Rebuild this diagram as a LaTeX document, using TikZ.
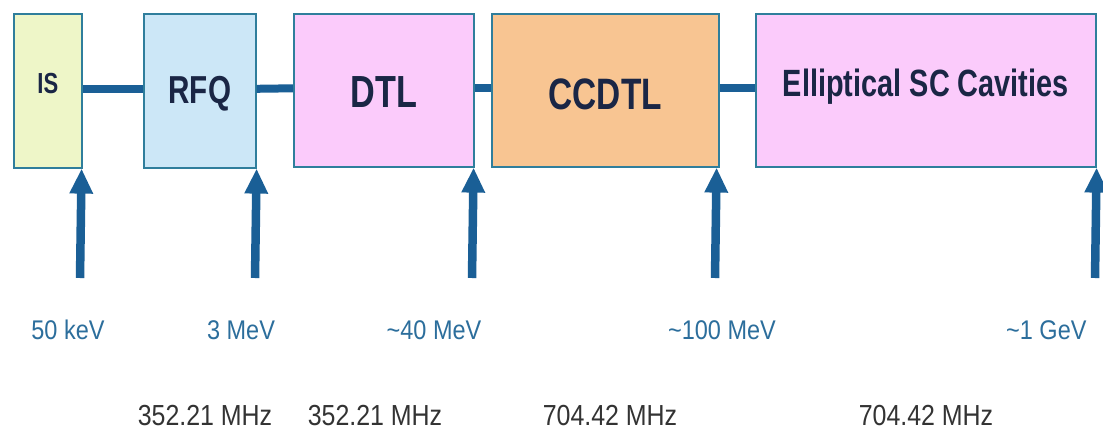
\documentclass[tikz,border=0pt]{standalone}
\usepackage{fontspec}
\setmainfont{Liberation Sans}
\newfontfamily\boxfont{Liberation Sans}[FakeStretch=0.76]
\newfontfamily\energyfont{Liberation Sans}[FakeStretch=0.87]
\newfontfamily\freqfont{Liberation Sans}[FakeStretch=0.86]
\usetikzlibrary{arrows.meta}
\definecolor{borderc}{HTML}{2F7E9C}
\definecolor{beamc}{HTML}{1A5F96}
\definecolor{isfill}{HTML}{EEF6C8}
\definecolor{rfqfill}{HTML}{CCE7F7}
\definecolor{pinkfill}{HTML}{FBCBFB}
\definecolor{orangefill}{HTML}{F8C592}
\definecolor{boxtextc}{HTML}{1A2645}
\definecolor{energyc}{HTML}{2C6E9C}
\definecolor{freqc}{HTML}{333333}
\tikzset{
  stage/.style={draw=borderc, line width=1.6pt, inner sep=0pt, anchor=north west},
  stagetext/.style={text=boxtextc, inner sep=0pt, font=\boxfont\bfseries},
  beam/.style={draw=beamc, line width=8pt},
  energyarrow/.style={draw=beamc, line width=8.5pt, -{Triangle[width=22pt,length=25pt]}},
  energy/.style={text=energyc, inner sep=0pt, font=\energyfont\fontsize{27}{30}\selectfont},
  freq/.style={text=freqc, inner sep=0pt, font=\freqfont\fontsize{29}{32}\selectfont}
}
\begin{document}
\begin{tikzpicture}[x=1pt,y=1pt]
\useasboundingbox[fill=white] (0,0) rectangle (1103,432);

% accelerator stages
\node[stage, fill=isfill, minimum width=68pt, minimum height=154pt] (IS) at (13,419) {};
\node[stage, fill=rfqfill, minimum width=112pt, minimum height=154pt] (RFQ) at (143,419) {};
\node[stage, fill=pinkfill, minimum width=180pt, minimum height=153pt] (DTL) at (293,419) {};
\node[stage, fill=orangefill, minimum width=227pt, minimum height=153pt] (CCDTL) at (491,419) {};
\node[stage, fill=pinkfill, minimum width=340pt, minimum height=153pt] (ELL) at (755,419) {};

% stage names
\node[stagetext, font=\boxfont\bfseries\fontsize{29}{32}\selectfont] (IStext) at ([yshift=7pt]IS.center) {IS};
\node[stagetext, font=\boxfont\bfseries\fontsize{39}{42}\selectfont] (RFQtext) at ([yshift=-3pt]RFQ.center) {RFQ};
\node[stagetext, font=\boxfont\bfseries\fontsize{45}{48}\selectfont] (DTLtext) at ([yshift=-2pt]DTL.center) {DTL};
\node[stagetext, font=\boxfont\bfseries\fontsize{44}{47}\selectfont] (CCDTLtext) at ([yshift=-4pt]CCDTL.center) {CCDTL};
\node[stagetext, font=\boxfont\bfseries\fontsize{38}{41}\selectfont] (ELLtext) at ([yshift=4pt]ELL.center) {Elliptical SC Cavities};

% beam line between stages
\draw[beam] ([yshift=2pt]IS.east) -- ([yshift=2pt]RFQ.west);
\draw[beam] ([yshift=2pt]RFQ.east) -- ([yshift=2pt]DTL.west);
\draw[beam] ([yshift=2pt]DTL.east) -- ([yshift=2pt]CCDTL.west);
\draw[beam] ([yshift=2pt]CCDTL.east) -- ([yshift=2pt]ELL.west);

% energy markers at the stage exits
\coordinate (aIS) at (80,154);
\coordinate (aRFQ) at (255,154);
\coordinate (aDTL) at (472,154);
\coordinate (aCCDTL) at (715,154);
\coordinate (aELL) at (1095,154);
\draw[energyarrow] (aIS) -- ([xshift=-1pt]IS.south east);
\draw[energyarrow] (aRFQ) -- ([xshift=0pt]RFQ.south east);
\draw[energyarrow] (aDTL) -- ([xshift=-1pt]DTL.south east);
\draw[energyarrow] (aCCDTL) -- ([xshift=-3pt]CCDTL.south east);
\draw[energyarrow] (aELL) -- ([xshift=0pt]ELL.south east);

% beam energies
\node[energy] (eIS) at (68,102) {50 keV};
\node[energy] (eRFQ) at (241,102) {3 MeV};
\node[energy] (eDTL) at (434,102) {\textasciitilde40 MeV};
\node[energy] (eCCDTL) at (722,102) {\textasciitilde100 MeV};
\node[energy, anchor=west] (eELL) at (1006,102) {\textasciitilde1 GeV};

% RF frequencies
\node[freq] (fRFQ) at (205,16) {352.21 MHz};
\node[freq] (fDTL) at (375,16) {352.21 MHz};
\node[freq] (fCCDTL) at (610,16) {704.42 MHz};
\node[freq] (fELL) at (926,16) {704.42 MHz};
\end{tikzpicture}
\end{document}
